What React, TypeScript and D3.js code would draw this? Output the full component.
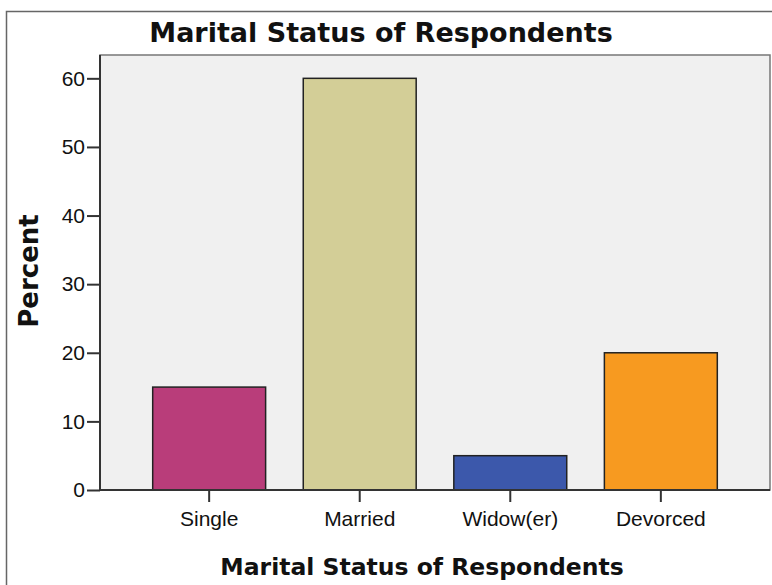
import * as d3 from "d3";
import { useRef, useEffect } from "react";

const categories = ["Single", "Married", "Widow(er)", "Devorced"];
const percents = [15, 60, 5, 20];
const barColors = ["#b93d7a", "#d3ce97", "#3c58ab", "#f79a20"];
const yTicks = [0, 10, 20, 30, 40, 50, 60];

const width = 772;
const height = 585;
const plotLeft = 100;
const plotRight = 770;
const plotTop = 55;
const plotBottom = 490;

const tickFont = "Liberation Sans, Arial, sans-serif";
const titleFont = "DejaVu Sans, Verdana, sans-serif";

export default function App() {
  const svgRef = useRef<SVGSVGElement | null>(null);

  useEffect(() => {
    if (!svgRef.current) return;
    const svg = d3.select(svgRef.current);
    svg.selectAll("*").remove();

    // outer chart border
    svg
      .append("rect")
      .attr("x", 6.5)
      .attr("y", 11.5)
      .attr("width", width + 10)
      .attr("height", height + 10)
      .attr("fill", "#fff")
      .attr("stroke", "#666")
      .attr("stroke-width", 1.5);

    const x = d3
      .scaleBand()
      .domain(categories)
      .range([plotLeft, plotRight])
      .paddingInner(0.25)
      .paddingOuter(0.35);

    const y = d3.scaleLinear().domain([0, 63.4]).range([plotBottom, plotTop]);

    // plot background
    svg
      .append("rect")
      .attr("x", plotLeft)
      .attr("y", plotTop)
      .attr("width", plotRight - plotLeft)
      .attr("height", plotBottom - plotTop)
      .attr("fill", "#f0f0f0")
      .attr("stroke", "#777")
      .attr("stroke-width", 1.5);

    // bars
    svg
      .selectAll(".bar")
      .data(categories)
      .join("rect")
      .attr("x", (d) => x(d)!)
      .attr("y", (_, i) => y(percents[i]))
      .attr("width", x.bandwidth())
      .attr("height", (_, i) => y(0) - y(percents[i]))
      .attr("fill", (_, i) => barColors[i])
      .attr("stroke", "#222")
      .attr("stroke-width", 1.5);

    // axes
    const yAxis = svg
      .append("g")
      .attr("transform", `translate(${plotLeft},0)`)
      .call(d3.axisLeft(y).tickValues(yTicks).tickSize(13).tickPadding(2));
    yAxis.select(".domain").attr("stroke", "#333").attr("stroke-width", 2).attr("d", `M0,${plotTop}V${plotBottom}`);
    yAxis.selectAll(".tick line").attr("stroke", "#333").attr("stroke-width", 2);
    yAxis
      .selectAll(".tick text")
      .attr("font-family", tickFont)
      .attr("font-size", 21)
      .attr("fill", "#111");

    const xAxis = svg
      .append("g")
      .attr("transform", `translate(0,${plotBottom})`)
      .call(d3.axisBottom(x).tickSize(12).tickPadding(9));
    xAxis.select(".domain").attr("stroke", "#333").attr("stroke-width", 2).attr("d", `M${plotLeft},0H${plotRight}`);
    xAxis.selectAll(".tick line").attr("stroke", "#333").attr("stroke-width", 2);
    xAxis
      .selectAll(".tick text")
      .attr("font-family", tickFont)
      .attr("font-size", 21)
      .attr("fill", "#111");

    // titles
    svg
      .append("text")
      .attr("x", 381)
      .attr("y", 42)
      .attr("text-anchor", "middle")
      .attr("font-family", titleFont)
      .attr("font-weight", "bold")
      .attr("font-size", 27)
      .attr("fill", "#111")
      .text("Marital Status of Respondents");

    svg
      .append("text")
      .attr("x", 422)
      .attr("y", 575)
      .attr("text-anchor", "middle")
      .attr("font-family", titleFont)
      .attr("font-weight", "bold")
      .attr("font-size", 23.5)
      .attr("fill", "#111")
      .text("Marital Status of Respondents");

    svg
      .append("text")
      .attr("transform", `translate(38,271) rotate(-90)`)
      .attr("text-anchor", "middle")
      .attr("font-family", titleFont)
      .attr("font-weight", "bold")
      .attr("font-size", 26)
      .attr("fill", "#111")
      .text("Percent");
  }, []);

  return (
    <svg
      ref={svgRef}
      width={width}
      height={height}
      style={{ position: "absolute", left: 0, top: 0, background: "#fff" }}
    ></svg>
  );
}
